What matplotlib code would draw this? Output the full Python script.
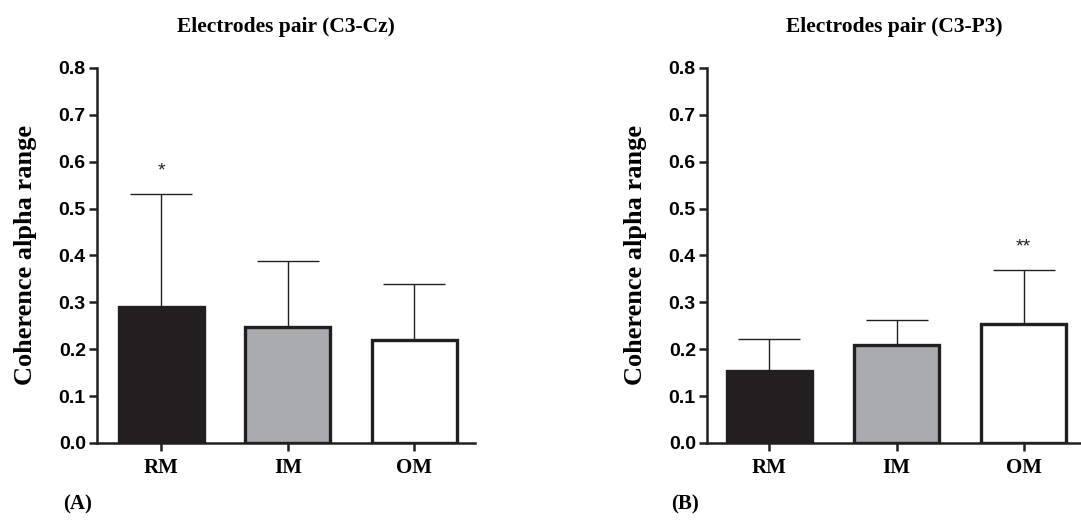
import matplotlib.pyplot as plt

# Group labels and mean / SD values for each electrode pair
groups = ['RM', 'IM', 'OM']
c3cz_mean = [0.290, 0.247, 0.220]
c3cz_sd = [0.242, 0.141, 0.119]
c3p3_mean = [0.153, 0.208, 0.254]
c3p3_sd = [0.068, 0.054, 0.115]
c3cz_marks = ['*', '', '']
c3p3_marks = ['', '', '**']
yticks = [0.0, 0.1, 0.2, 0.3, 0.4, 0.5, 0.6, 0.7, 0.8]

bar_colors = ['#231f20', '#a9abae', '#ffffff']
edge = '#231f20'


def draw_panel(ax, means, sds, marks, title, xlim):
    x = list(range(len(groups)))
    ax.bar(x, means, width=0.67, color=bar_colors, edgecolor=edge,
           linewidth=2.4, zorder=2)
    # upper error bars only
    ax.errorbar(x, means, yerr=[[0] * len(sds), sds], fmt='none',
                ecolor=edge, elinewidth=1.0, capsize=22, capthick=1.0,
                zorder=1)
    for xi, m, s, mk in zip(x, means, sds, marks):
        if mk:
            ax.text(xi, m + s + 0.03, mk, ha='center', va='bottom',
                    fontsize=14, family='Liberation Sans', color=edge)

    ax.set_xlim(*xlim)
    ax.set_ylim(0, 0.8)
    ax.set_yticks(yticks)
    ax.set_yticklabels(['%.1f' % t for t in yticks],
                       family='Liberation Sans', fontweight='bold', fontsize=14)
    ax.set_xticks(x)
    ax.set_xticklabels(groups, family='Liberation Serif', fontweight='bold',
                       fontsize=15)
    ax.set_ylabel('Coherence alpha range', family='Liberation Serif',
                  fontweight='bold', fontsize=19, labelpad=16)
    ax.set_title(title, family='Liberation Serif', fontweight='bold',
                 fontsize=15.5, pad=26)

    for side in ['top', 'right']:
        ax.spines[side].set_visible(False)
    for side in ['left', 'bottom']:
        ax.spines[side].set_linewidth(1.8)
        ax.spines[side].set_color(edge)
    ax.tick_params(axis='both', direction='out', length=6, width=1.8,
                   color=edge, pad=2)
    ax.tick_params(axis='x', pad=5)


fig = plt.figure(figsize=(10.81, 5.29), dpi=100)
ax1 = fig.add_axes([0.0897, 0.1626, 0.35, 0.709])
ax2 = fig.add_axes([0.654, 0.1626, 0.346, 0.709])

draw_panel(ax1, c3cz_mean, c3cz_sd, c3cz_marks, 'Electrodes pair (C3-Cz)',
           (-0.506, 2.48))
draw_panel(ax2, c3p3_mean, c3p3_sd, c3p3_marks, 'Electrodes pair (C3-P3)',
           (-0.49, 2.45))

fig.text(0.058, 0.036, '(A)', family='Liberation Serif', fontweight='bold',
         fontsize=15)
fig.text(0.621, 0.036, '(B)', family='Liberation Serif', fontweight='bold',
         fontsize=15)

fig.savefig('out.png', dpi=100)
